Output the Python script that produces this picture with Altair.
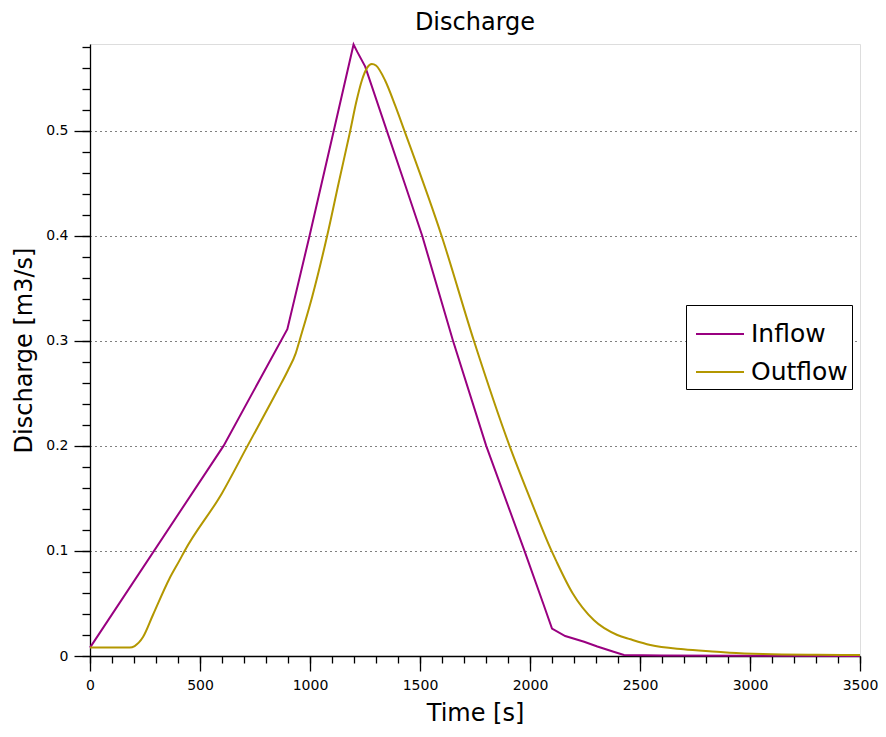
import altair as alt
import pandas as pd

# ---- data ----
inflow_t = [0, 607, 897, 998, 1108, 1198, 1215, 1251, 1349, 1430, 1510, 1650, 1801, 1975, 2060, 2100, 2160, 2246, 2306, 2380, 2427, 2600, 3000, 3500]
inflow_q = [0.008, 0.200, 0.311, 0.400, 0.500, 0.582, 0.575, 0.561, 0.500, 0.450, 0.400, 0.300, 0.200, 0.100, 0.050, 0.026, 0.019, 0.0136, 0.009, 0.004, 0.001, 0.0005, 0.0002, 0.0]

outflow_t = [0, 181, 203, 241, 286, 362, 407, 430, 600, 716, 850, 900, 935, 955, 1010, 1078, 1130, 1183, 1210, 1236, 1260, 1281, 1300, 1341, 1387, 1429, 1598, 1745, 1907, 2000, 2098, 2118, 2193, 2291, 2397, 2457, 2547, 2698, 2849, 2908, 3060, 3300, 3500]
outflow_q = [0.008, 0.008, 0.0095, 0.018, 0.039, 0.074, 0.091, 0.100, 0.155, 0.200, 0.252, 0.272, 0.288, 0.302, 0.342, 0.400, 0.450, 0.500, 0.527, 0.548, 0.560, 0.5635, 0.562, 0.548, 0.524, 0.500, 0.400, 0.300, 0.200, 0.150, 0.100, 0.091, 0.060, 0.034, 0.020, 0.0159, 0.0105, 0.0064, 0.0041, 0.0032, 0.0019, 0.0012, 0.001]

series_names = ["Inflow", "Outflow"]
series_colors = ["#990080", "#b39700"]

x_major_ticks = [0, 500, 1000, 1500, 2000, 2500, 3000, 3500]
x_minor_ticks = list(range(0, 3501, 100))
y_major_ticks = [0, 0.1, 0.2, 0.3, 0.4, 0.5]
y_minor_ticks = [round(0.02 * i, 2) for i in range(0, 30)]

inflow_df = pd.DataFrame({"series": "Inflow", "t": inflow_t, "q": inflow_q, "order": range(len(inflow_t))})
outflow_df = pd.DataFrame({"series": "Outflow", "t": outflow_t, "q": outflow_q, "order": range(len(outflow_t))})
df = pd.concat([inflow_df, outflow_df])

FONT = "DejaVu Sans"
xscale = alt.Scale(domain=[0, 3500], nice=False, zero=False)
yscale = alt.Scale(domain=[0, 0.5825], nice=False)

x_major = alt.X("t:Q", scale=xscale, title="Time [s]",
                axis=alt.Axis(values=x_major_ticks, format="d", tickSize=15, tickColor="black", tickWidth=1.3,
                              domainColor="black", domainWidth=1.3, grid=False, orient="bottom",
                              labelFont=FONT, labelFontSize=14, labelColor="black", labelPadding=7,
                              titleFont=FONT, titleFontSize=24, titleFontWeight="normal", titleColor="black",
                              titlePadding=9, labelFlush=False, labelOverlap=False))
y_major = alt.Y("q:Q", scale=yscale, title="Discharge [m3/s]",
                axis=alt.Axis(values=y_major_ticks, format="~g", tickSize=16, tickColor="black", tickWidth=1.3,
                              domainColor="black", domainWidth=1.3, grid=True, gridColor="black",
                              gridDash=[1, 4], gridWidth=1, orient="left",
                              labelFont=FONT, labelFontSize=14, labelColor="black", labelPadding=6,
                              titleFont=FONT, titleFontSize=24, titleFontWeight="normal", titleColor="black",
                              titlePadding=9, labelFlush=False, labelOverlap=False))
color = alt.Color("series:N", scale=alt.Scale(domain=series_names, range=series_colors),
                  legend=alt.Legend(title=None, orient="none", legendX=596, legendY=261,
                                    strokeColor="black", fillColor="white", padding=4,
                                    symbolType="stroke", symbolSize=2304, symbolStrokeWidth=2,
                                    symbolOffset=5, labelExpr="datum.label + ' '",
                                    labelFont=FONT, labelFontSize=25, labelColor="black",
                                    rowPadding=0, labelOffset=6))

inflow_line = alt.Chart(inflow_df).mark_line(strokeWidth=2, interpolate="linear").encode(
    x=x_major, y=y_major, color=color, order="order:Q")
outflow_line = alt.Chart(outflow_df).mark_line(strokeWidth=2, interpolate="monotone").encode(
    x=alt.X("t:Q", scale=xscale, axis=None), y=alt.Y("q:Q", scale=yscale, axis=None),
    color=color, order="order:Q")

minor = alt.Chart(df).mark_line(opacity=0).encode(
    x=alt.X("t:Q", scale=xscale, title=None,
            axis=alt.Axis(values=x_minor_ticks, tickSize=7, tickColor="black", tickWidth=1.3,
                          domain=False, labels=False, grid=False, orient="bottom")),
    y=alt.Y("q:Q", scale=yscale, title=None,
            axis=alt.Axis(values=y_minor_ticks, tickSize=8, tickColor="black", tickWidth=1.3,
                          domain=False, labels=False, grid=False, orient="left")),
    detail="series:N",
)

chart = alt.layer(inflow_line, outflow_line, minor).resolve_axis(x="independent", y="independent").properties(
    width=770, height=612,
    title=alt.TitleParams("Discharge", font=FONT, fontSize=24, fontWeight="normal", color="black", offset=6),
    autosize=alt.AutoSizeParams(type="none"),
    padding={"left": 82, "top": 36, "right": 18, "bottom": 73},
).configure_view(strokeWidth=0).configure(background="white")

chart.save("out.html", embed_options={"renderer": "svg", "actions": False})
